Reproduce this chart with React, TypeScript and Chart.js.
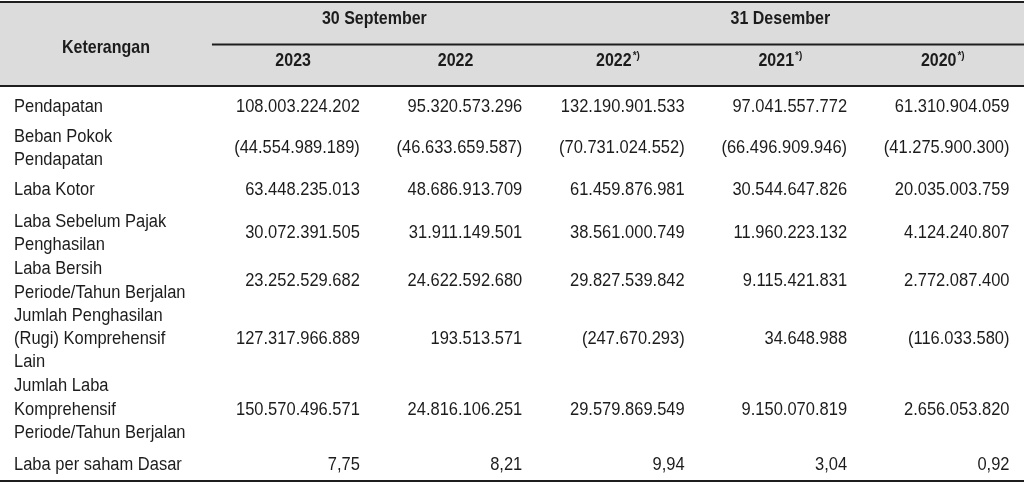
import React, { useEffect, useRef } from "react";
import { Chart, registerables } from "chart.js";

Chart.register(...registerables);

// ---------- data ----------
const stubHeader = "Keterangan";
const groupHeaders = ["30 September", "31 Desember"];
const groupFirstColumn = [0, 2];
const groupLastColumn = [2, 5];
const columnYears = ["2023", "2022", "2022", "2021", "2020"];
const columnMarks = ["", "", "*)", "*)", "*)"];

const rowLabels: string[][] = [
  ["Pendapatan"],
  ["Beban Pokok", "Pendapatan"],
  ["Laba Kotor"],
  ["Laba Sebelum Pajak", "Penghasilan"],
  ["Laba Bersih", "Periode/Tahun Berjalan"],
  ["Jumlah Penghasilan", "(Rugi) Komprehensif", "Lain"],
  ["Jumlah Laba", "Komprehensif", "Periode/Tahun Berjalan"],
  ["Laba per saham Dasar"],
];
const rowDecimals = [0, 0, 0, 0, 0, 0, 0, 2];

const valuesSep2023 = [108003224202, -44554989189, 63448235013, 30072391505, 23252529682, 127317966889, 150570496571, 7.75];
const valuesSep2022 = [95320573296, -46633659587, 48686913709, 31911149501, 24622592680, 193513571, 24816106251, 8.21];
const valuesDec2022 = [132190901533, -70731024552, 61459876981, 38561000749, 29827539842, -247670293, 29579869549, 9.94];
const valuesDec2021 = [97041557772, -66496909946, 30544647826, 11960223132, 9115421831, 34648988, 9150070819, 3.04];
const valuesDec2020 = [61310904059, -41275900300, 20035003759, 4124240807, 2772087400, -116033580, 2656053820, 0.92];
const columnValues = [valuesSep2023, valuesSep2022, valuesDec2022, valuesDec2021, valuesDec2020];

// ---------- layout (in scale units) ----------
const STUB_WIDTH = 1.305; // stub column width, in data-column units
const Y_TOTAL = 20.77; // canvas height in line units
const TOP_RULE = 0.085;
const GROUP_TEXT = 0.815;
const GROUP_RULE = 1.91;
const STUB_TEXT = 2.05;
const YEAR_TEXT = 2.62;
const HEADER_BOTTOM = 3.69;
const BOTTOM_RULE = 20.64;
const rowPadBefore = [0.39, 0.28, 0.29, 0.36, 0.04, 0.0, 0.02, 0.36];

const CELL_PAD_PX = 14.5;
const LABEL_PAD_PX = 14;
const TEXT_STRETCH = 1.12;
const FONT = "'Liberation Sans', Arial, sans-serif";
const TEXT_COLOR = "#1c1c1c";
const RULE_COLOR = "#1e1e1e";
const HEADER_BG = "#dcdcdc";

function rowCenters(): number[] {
  const centers: number[] = [];
  let cursor = HEADER_BOTTOM;
  rowLabels.forEach((lines, r) => {
    const top = cursor + rowPadBefore[r];
    centers.push(top + lines.length / 2);
    cursor = top + lines.length;
  });
  return centers;
}

function formatId(v: number, dec: number): string {
  const abs = Math.abs(v).toFixed(dec);
  const [intPart, fracPart] = abs.split(".");
  const grouped = intPart.replace(/\B(?=(\d{3})+(?!\d))/g, ".");
  const s = fracPart ? grouped + "," + fracPart : grouped;
  return v < 0 ? "(" + s + ")" : s;
}

function drawText(ctx: CanvasRenderingContext2D, text: string, px: number, py: number) {
  ctx.save();
  ctx.translate(px, py);
  ctx.scale(1, TEXT_STRETCH);
  ctx.fillText(text, 0, 0);
  ctx.restore();
}

const tablePlugin = {
  id: "tableDraw",
  beforeDatasetsDraw(chart: any) {
    const { ctx, chartArea, scales } = chart;
    const x = scales.x;
    const y = scales.y;
    const L = chartArea.left;
    const R = chartArea.right;
    ctx.save();
    // header background
    const hTop = y.getPixelForValue(TOP_RULE);
    const hBot = y.getPixelForValue(HEADER_BOTTOM);
    ctx.fillStyle = HEADER_BG;
    ctx.fillRect(L, hTop, R - L, hBot - hTop);

    // rules
    ctx.strokeStyle = RULE_COLOR;
    ctx.lineWidth = 2;
    const hline = (yv: number, x0: number, x1: number) => {
      const py = y.getPixelForValue(yv);
      ctx.beginPath();
      ctx.moveTo(x0, py);
      ctx.lineTo(x1, py);
      ctx.stroke();
    };
    hline(TOP_RULE, L, R);
    hline(HEADER_BOTTOM, L, R);
    hline(BOTTOM_RULE, L, R);
    hline(GROUP_RULE, x.getPixelForValue(0), R);

    // header texts
    ctx.fillStyle = TEXT_COLOR;
    ctx.textBaseline = "middle";
    ctx.font = `bold 16px ${FONT}`;
    ctx.textAlign = "center";
    drawText(ctx, stubHeader, x.getPixelForValue(-STUB_WIDTH / 2), y.getPixelForValue(STUB_TEXT));
    groupHeaders.forEach((g, i) => {
      const cx = x.getPixelForValue((groupFirstColumn[i] + groupLastColumn[i]) / 2);
      drawText(ctx, g, cx, y.getPixelForValue(GROUP_TEXT));
    });
    ctx.textAlign = "left";
    columnYears.forEach((yr, i) => {
      const cx = x.getPixelForValue(i + 0.5);
      const py = y.getPixelForValue(YEAR_TEXT);
      ctx.font = `bold 16px ${FONT}`;
      const w1 = ctx.measureText(yr).width;
      ctx.font = `bold 10px ${FONT}`;
      const w2 = columnMarks[i] ? ctx.measureText(columnMarks[i]).width + 1 : 0;
      const sx = cx - (w1 + w2) / 2;
      ctx.font = `bold 16px ${FONT}`;
      drawText(ctx, yr, sx, py);
      if (columnMarks[i]) {
        ctx.font = `bold 10px ${FONT}`;
        drawText(ctx, columnMarks[i], sx + w1 + 1, py - 5.5);
      }
    });

    // row labels
    ctx.font = `16.5px ${FONT}`;
    ctx.textAlign = "left";
    const centers = rowCenters();
    rowLabels.forEach((lines, r) => {
      lines.forEach((line, k) => {
        const yv = centers[r] + k - (lines.length - 1) / 2;
        drawText(ctx, line, x.getPixelForValue(-STUB_WIDTH) + LABEL_PAD_PX, y.getPixelForValue(yv));
      });
    });
    ctx.restore();
  },
  afterDatasetsDraw(chart: any) {
    const { ctx, scales } = chart;
    const x = scales.x;
    ctx.save();
    ctx.fillStyle = TEXT_COLOR;
    ctx.font = `16.5px ${FONT}`;
    ctx.textAlign = "right";
    ctx.textBaseline = "middle";
    columnValues.forEach((vals, i) => {
      const meta = chart.getDatasetMeta(i);
      const right = x.getPixelForValue(i + 1) - CELL_PAD_PX;
      meta.data.forEach((el: any, r: number) => {
        drawText(ctx, formatId(vals[r], rowDecimals[r]), right, el.y);
      });
    });
    ctx.restore();
  },
};

export default function App() {
  const ref = useRef<HTMLCanvasElement | null>(null);
  useEffect(() => {
    if (!ref.current) return;
    const centers = rowCenters();
    const chart = new Chart(ref.current, {
      type: "scatter",
      data: {
        datasets: columnValues.map((vals, i) => ({
          label: columnYears[i] + columnMarks[i],
          data: vals.map((_, r) => ({ x: i + 0.5, y: centers[r] })),
          pointRadius: 0,
          pointHoverRadius: 0,
          borderWidth: 0,
        })),
      },
      options: {
        animation: false,
        responsive: false,
        events: [],
        layout: { padding: 0, autoPadding: false },
        plugins: { legend: { display: false }, tooltip: { enabled: false } },
        scales: {
          x: { type: "linear", min: -STUB_WIDTH, max: 5, display: false },
          y: { type: "linear", min: 0, max: Y_TOTAL, reverse: true, display: false },
        },
      },
      plugins: [tablePlugin],
    });
    return () => chart.destroy();
  }, []);
  return (
    <div style={{ position: "absolute", left: 0, top: 0, width: 1024, height: 484, background: "#fff" }}>
      <canvas ref={ref} width={1024} height={484} style={{ display: "block" }} />
    </div>
  );
}
